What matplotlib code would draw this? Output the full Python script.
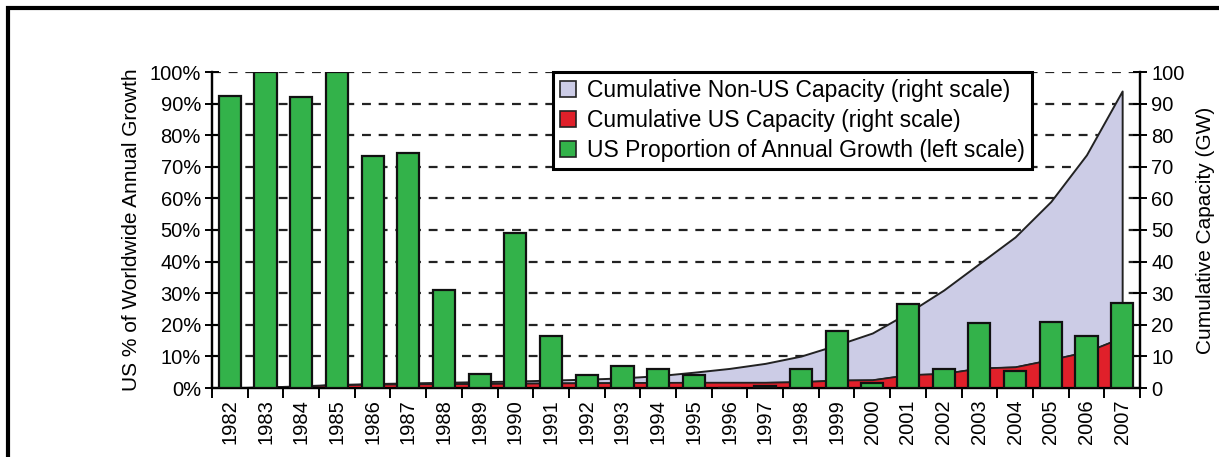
import matplotlib

matplotlib.use("Agg")
import matplotlib.pyplot as plt  # noqa: E402
import numpy as np  # noqa: E402
from matplotlib.patches import Patch, Rectangle  # noqa: E402

# 年ごとの値
years = [str(y) for y in range(1982, 2008)]
us_share_pct = [92.5, 100, 92, 100, 73.5, 74.5, 31, 4.5, 49, 16.5,
                4, 7, 6, 4, 0, 0.5, 6, 18, 1.5, 26.5,
                6, 20.5, 5.5, 21, 16.5, 27]
us_capacity_gw = [0.1, 0.25, 0.6, 1.0, 1.2, 1.3, 1.35, 1.4, 1.5, 1.6,
                  1.65, 1.7, 1.75, 1.8, 1.8, 1.8, 2.0, 2.5, 2.6, 4.2,
                  4.6, 6.3, 6.7, 9.0, 11.5, 16.0]
world_capacity_gw = [0.1, 0.3, 0.7, 1.1, 1.4, 1.6, 1.8, 2.0, 2.2, 2.5,
                     2.8, 3.2, 3.9, 5.0, 6.2, 7.8, 10.1, 13.6, 17.4, 23.8,
                     31.0, 39.4, 47.8, 59.0, 73.8, 94.0]

plt.rcParams["font.family"] = ["Liberation Sans", "DejaVu Sans"]
plt.rcParams["font.size"] = 14.5

LAVENDER = "#cccce6"
RED = "#e0202a"
GREEN = "#33b24a"

fig = plt.figure(figsize=(12.19, 4.57), dpi=100)
ax = fig.add_axes([212 / 1219, 1 - 388 / 457, (1140 - 212) / 1219, (388 - 72) / 457])
ax2 = ax.twinx()

x = np.arange(len(years))
us = np.array(us_capacity_gw)
world = np.array(world_capacity_gw)

# 面グラフ（右軸）
ax.fill_between(x, us, world, facecolor=LAVENDER, edgecolor="#222222", linewidth=1.4, zorder=2)
ax.fill_between(x, 0, us, facecolor=RED, edgecolor="#222222", linewidth=1.2, zorder=3)
ax.set_ylim(0, 100)
ax.set_yticks(range(0, 101, 10))
ax.yaxis.tick_right()
ax.yaxis.set_label_position("right")
ax.set_ylabel("Cumulative Capacity (GW)", labelpad=8, fontsize=15)

# 破線グリッド
for v in range(10, 101, 10):
    ax.axhline(v, color="#222222", linestyle=(0, (4, 3.5)), linewidth=1.6, zorder=0)

# 棒グラフ（左軸）
ax2.bar(x, us_share_pct, width=0.62, color=GREEN, edgecolor="#111111", linewidth=1.6, zorder=3)
ax2.set_ylim(0, 100)
ax2.set_yticks(range(0, 101, 10))
ax2.set_yticklabels([f"{v}%" for v in range(0, 101, 10)])
ax2.yaxis.tick_left()
ax2.yaxis.set_label_position("left")
ax2.set_ylabel("US % of Worldwide Annual Growth", labelpad=6, fontsize=15)

for a in (ax, ax2):
    a.set_xlim(-0.5, len(years) - 0.5)
    a.spines["top"].set_visible(False)
    a.spines["left"].set_linewidth(1.6)
    a.spines["right"].set_linewidth(1.6)
    a.spines["bottom"].set_linewidth(1.6)
    a.tick_params(axis="y", direction="inout", length=10, width=1.4, pad=3)

ax.set_xticks(np.arange(-0.5, len(years), 1))
ax.set_xticklabels([])
ax.set_xticks(x, minor=True)
ax.set_xticklabels(years, minor=True, rotation=90)
ax.tick_params(axis="x", which="major", direction="out", length=7, width=1.4)
ax.tick_params(axis="x", which="minor", length=0, pad=8)
ax2.tick_params(axis="x", which="both", length=0, labelbottom=False)

handles = [
    Patch(facecolor=LAVENDER, edgecolor="#222222", linewidth=1.2),
    Patch(facecolor=RED, edgecolor="#222222", linewidth=1.2),
    Patch(facecolor=GREEN, edgecolor="#222222", linewidth=1.2),
]
labels = [
    "Cumulative Non-US Capacity (right scale)",
    "Cumulative US Capacity (right scale)",
    "US Proportion of Annual Growth (left scale)",
]
leg = ax2.legend(handles, labels, loc="upper left", fontsize=16.5,
                 bbox_to_anchor=(553 / 1219, 1 - 72 / 457), bbox_transform=fig.transFigure,
                 fancybox=False, framealpha=1, edgecolor="black",
                 handlelength=0.7, handleheight=0.7, handletextpad=0.5,
                 labelspacing=0.3, borderpad=0.3, borderaxespad=0)
leg.get_frame().set_linewidth(2.2)

# 外枠
fig.patches.append(Rectangle((8 / 1219, -0.1), 1.2, 1 - 8 / 457 + 0.1,
                             transform=fig.transFigure, fill=False,
                             edgecolor="black", linewidth=3))

fig.savefig("out.png", dpi=100)
